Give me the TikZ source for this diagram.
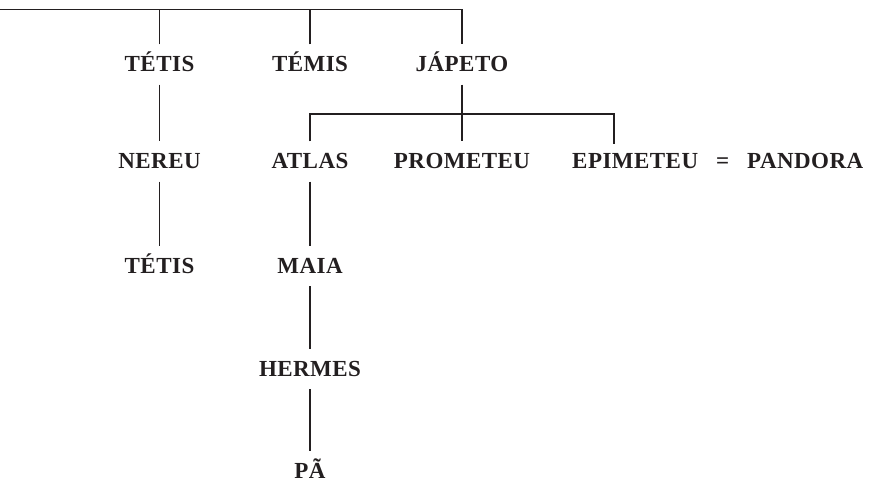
\documentclass[tikz,border=0pt]{standalone}
\usepackage{fontspec}
\newfontfamily\labfont{Liberation Serif}[LetterSpace=2]
\definecolor{ink}{HTML}{231F20}
\begin{document}
\begin{tikzpicture}[x=1bp,y=-1bp,
  lab/.style={inner xsep=0pt,inner ysep=12.5bp,text height=15bp,text depth=0pt,
    font=\labfont\bfseries\fontsize{23bp}{24bp}\selectfont,text=ink},
  conn/.style={draw=ink,line width=1.2bp}]
\useasboundingbox (0,0) rectangle (870,486);
% row 1
\node[lab] (tetisA) at (159.5,64.5) {TÉTIS};
\node[lab] (temis) at (310,64.5) {TÉMIS};
\node[lab] (japeto) at (462,64.5) {JÁPETO};
% row 2
\node[lab] (nereu) at (159.5,161.5) {NEREU};
\node[lab] (atlas) at (310,161.5) {ATLAS};
\node[lab] (prometeu) at (462,161.5) {PROMETEU};
\node[lab,anchor=west] (epi) at (572,161.5) {EPIMETEU\hspace{18bp}=\hspace{18bp}PANDORA};
% row 3
\node[lab] (tetisB) at (159.5,266) {TÉTIS};
\node[lab] (maia) at (310,266) {MAIA};
% rows 4-5
\node[lab] (hermes) at (310,369) {HERMES};
\node[lab] (pa) at (310,471) {PÃ};
% coordinates
\coordinate (left) at (0,9.5);
\coordinate (bus2) at (462,114);
\coordinate (epitop) at (614,144);
% connectors
\draw[conn] (left) -| (japeto.north);
\draw[conn] (tetisA.north) -- (tetisA.north |- left);
\draw[conn] (temis.north) -- (temis.north |- left);
\draw[conn] (japeto.south) -- (japeto.south |- prometeu.north);
\draw[conn] (atlas.north) |- (bus2) -| (epitop);
\draw[conn] (tetisA.south) -- (nereu.north);
\draw[conn] (nereu.south) -- (tetisB.north);
\draw[conn] (atlas.south) -- (maia.north);
\draw[conn] (maia.south) -- (hermes.north);
\draw[conn] (hermes.south) -- (pa.north);
\end{tikzpicture}
\end{document}
